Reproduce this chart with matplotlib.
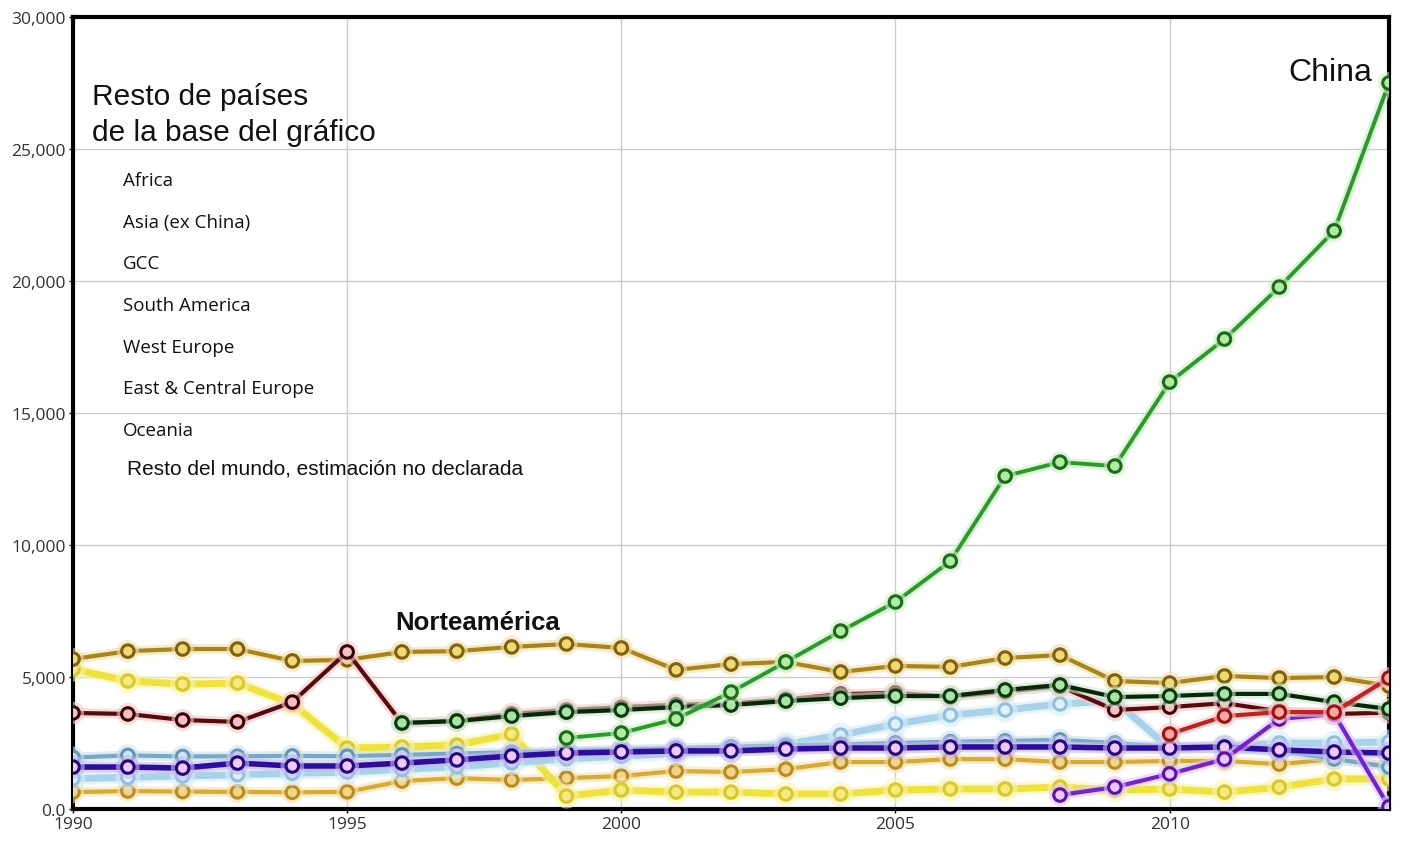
import matplotlib.pyplot as plt
import matplotlib.patheffects as pe
from matplotlib.ticker import FuncFormatter

years = list(range(1990, 2015))

# series values, None = no data
china = [None] * 9 + [2690, 2880, 3410, 4430, 5570, 6740, 7840, 9390, 12610, 13140,
                      12990, 16170, 17800, 19770, 21900, 27500]
norteamerica = [5680, 5980, 6060, 6060, 5610, 5650, 5950, 5980, 6140, 6250, 6100, 5270,
                5490, 5570, 5190, 5420, 5380, 5720, 5830, 4850, 4770, 5040, 4960, 5000, 4660]
maroon = [3640, 3600, 3370, 3300, 4050, 5950, 3250, 3350, 3600, 3750, 3850, 3950,
          4000, 4150, 4350, 4400, 4250, 4450, 4650, 3750, 3860, 4010, 3700, 3600, 3650]
dark_green = [None] * 6 + [3260, 3330, 3520, 3670, 3750, 3860, 3940, 4090, 4200, 4280,
                           4280, 4510, 4700, 4240, 4280, 4360, 4360, 4050, 3790]
yellow = [5300, 4850, 4730, 4770, 3980, 2310, 2350, 2420, 2840, 490, 720, 640,
          640, 570, 570, 720, 760, 760, 830, 720, 760, 640, 830, 1140, 1140]
ochre = [640, 680, 660, 650, 630, 650, 1060, 1170, 1100, 1170, 1250, 1440,
         1400, 1510, 1780, 1780, 1890, 1890, 1780, 1780, 1820, 1820, 1700, 1890, 1630]
light_blue = [1150, 1200, 1250, 1300, 1350, 1400, 1500, 1600, 1750, 1900, 2000, 2100,
              2250, 2450, 2800, 3220, 3560, 3750, 3980, 4100, 2300, 2350, 2500, 2500, 2540]
steel_blue = [1950, 2030, 1990, 2000, 2010, 2000, 2050, 2100, 2150, 2200, 2250, 2300,
              2350, 2400, 2450, 2500, 2550, 2580, 2620, 2500, 2350, 2300, 2200, 1900, 1590]
indigo = [1590, 1590, 1550, 1740, 1630, 1630, 1740, 1860, 2010, 2120, 2160, 2200,
          2200, 2270, 2310, 2310, 2350, 2350, 2350, 2310, 2310, 2350, 2240, 2160, 2120]
purple = [None] * 18 + [530, 830, 1330, 1890, 3410, 3600, 80]
red = [None] * 20 + [2840, 3520, 3670, 3670, 4960]

legend_items = ["Africa", "Asia (ex China)", "GCC", "South America", "West Europe",
                "East & Central Europe", "Oceania"]

fig = plt.figure(figsize=(14.04, 8.45), dpi=100)
ax = fig.add_axes([0.052, 0.0414, 0.9373, 0.9373])


def draw(values, line, edge, face, lw=3, ms=9, halo=None):
    xs = [y for y, v in zip(years, values) if v is not None]
    vs = [v for v in values if v is not None]
    effects = None
    if halo:
        effects = [pe.Stroke(linewidth=lw + 4, foreground=halo, alpha=0.6), pe.Normal()]
    ax.plot(xs, vs, color=line, lw=lw, marker="o", ms=ms, mfc=face, mec=edge,
            mew=2.2, path_effects=effects, zorder=3)


draw(ochre, "#d8aa30", "#b88c20", "#f2d488", halo="#f5e2b0")
draw(yellow, "#f0e23c", "#d8c82a", "#f4ea80", lw=5, halo="#faf4b0")
draw(light_blue, "#a8d2ea", "#90c0e0", "#dff2fb", lw=5, halo="#d8eef8")
draw(steel_blue, "#78a8c4", "#6496b4", "#c8e8f4", lw=3, halo="#c8e0ec")
draw(indigo, "#2c0e9c", "#22087e", "#f0c8f4", lw=4, halo="#c8b8f0")
draw(norteamerica, "#a8841a", "#7e6010", "#f0d872", halo="#f0e0a8")
draw(maroon, "#5a0a0a", "#3a0000", "#f4c0c8", halo="#f0c8c8")
draw(dark_green, "#0a260a", "#0a380a", "#a8e4a8", halo="#c8e8c8")
draw(purple, "#7222d2", "#5a10b0", "#e8c8f8", halo="#e0c8f8")
draw(red, "#c42020", "#a01010", "#f4a8a8", halo="#f4c8c8")
draw(china, "#2a9a2a", "#1a6a1a", "#b0eca0", lw=2.8, halo="#c8f0c0")

ax.set_xlim(1990, 2014)
ax.set_ylim(0, 30000)
ax.set_xticks([1990, 1995, 2000, 2005, 2010])
ax.set_yticks(range(0, 30001, 5000))
ax.yaxis.set_major_formatter(FuncFormatter(lambda v, p: "0.0" if v == 0 else f"{int(v):,}"))
ax.grid(True, color="#cccccc", lw=1)
ax.set_axisbelow(True)
for s in ax.spines.values():
    s.set_linewidth(3)
    s.set_color("black")
ax.tick_params(length=3, width=1, labelsize=12.5, labelcolor="#333333", pad=2)
for lab in ax.get_xticklabels() + ax.get_yticklabels():
    lab.set_family("Open Sans")

ax.text(0.0143, 0.918, "Resto de países\nde la base del gráfico", transform=ax.transAxes,
        fontsize=21.5, family="Liberation Sans", color="#111111", va="top", linespacing=1.35)
for i, name in enumerate(legend_items):
    ax.text(0.038, 0.794 - i * 0.0526, name, transform=ax.transAxes, fontsize=13.5,
            family="Open Sans", color="#111111", va="center")
ax.text(0.041, 0.4306, "Resto del mundo, estimación no declarada", transform=ax.transAxes,
        fontsize=15, family="Liberation Sans", color="#111111", va="center")

ax.text(1995.87, 7100, "Norteamérica", fontsize=18.5, family="Liberation Sans",
        fontweight="bold", color="#111111", va="center")
ax.text(2013.69, 27900, "China", fontsize=23, family="Liberation Sans",
        color="#111111", ha="right", va="center")

plt.savefig("out.png", dpi=100)
